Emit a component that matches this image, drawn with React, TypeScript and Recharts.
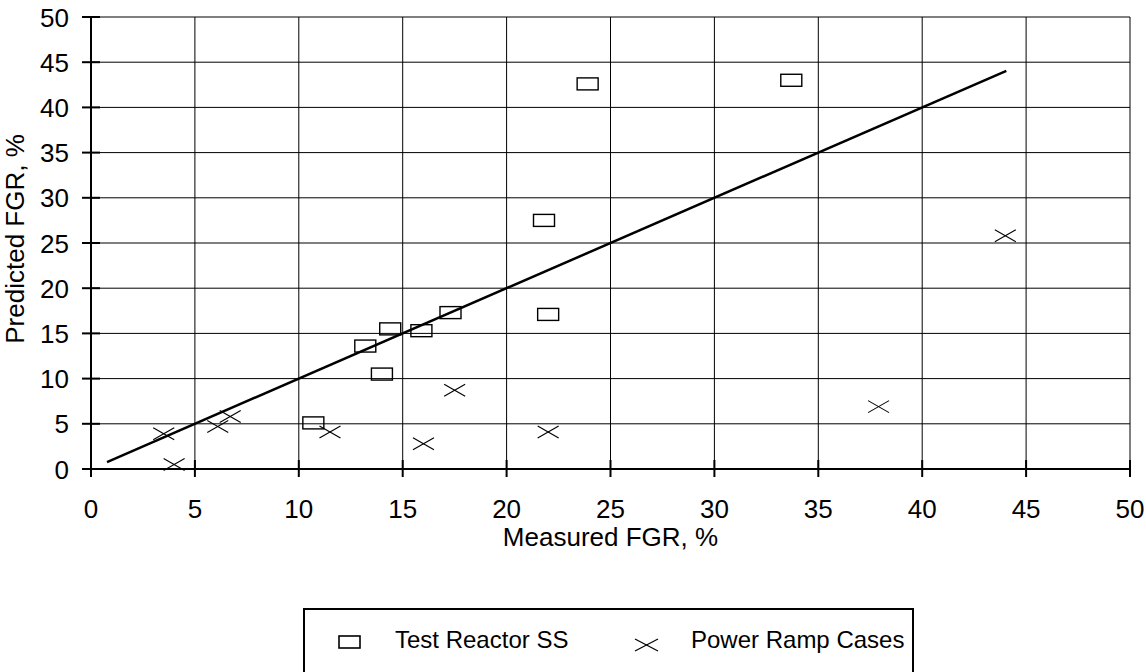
import {
  CartesianGrid,
  Legend,
  Scatter,
  ScatterChart,
  XAxis,
  YAxis,
} from 'recharts';

const FONT = '"Liberation Sans", Arial, sans-serif';

// Test Reactor SS (measured, predicted)
const reactorX = [10.7, 13.2, 14.4, 14.0, 15.9, 17.3, 22.0, 21.8, 23.9, 33.7];
const reactorY = [5.1, 13.6, 15.5, 10.5, 15.3, 17.3, 17.1, 27.5, 42.6, 43.0];

// Power Ramp Cases
const rampX = [3.5, 4.0, 6.1, 6.7, 11.5, 16.0, 17.5, 22.0, 37.9, 44.0];
const rampY = [3.9, 0.5, 4.7, 5.8, 4.1, 2.8, 8.7, 4.1, 6.9, 25.8];

// 1:1 line
const lineX = [0.77, 44.05];
const lineY = [0.77, 44.05];

const ticks = [0, 5, 10, 15, 20, 25, 30, 35, 40, 45, 50];

const reactor = reactorX.map((x, i) => ({ x, y: reactorY[i] }));
const ramp = rampX.map((x, i) => ({ x, y: rampY[i] }));
const fit = lineX.map((x, i) => ({ x, y: lineY[i] }));

const SquareMark = (p: any) => (
  <rect x={p.cx - 10.5} y={p.cy - 6} width={21} height={12} fill="none" stroke="#000" strokeWidth={1.4} />
);

const CrossMark = (p: any) => (
  <g stroke="#000" strokeWidth={1.1}>
    <line x1={p.cx - 10.5} y1={p.cy - 6} x2={p.cx + 10.5} y2={p.cy + 6} />
    <line x1={p.cx - 10.5} y1={p.cy + 6} x2={p.cx + 10.5} y2={p.cy - 6} />
  </g>
);

const NoMark = () => null;

const XTick = (p: any) => (
  <g>
    <line x1={p.x} x2={p.x} y1={p.y - 9} y2={p.y + 8} stroke="#000" strokeWidth={2} />
    <text x={p.x} y={p.y + 49} textAnchor="middle" fontSize={26} fontFamily={FONT} fill="#000">
      {p.payload.value}
    </text>
  </g>
);

const YTick = (p: any) => (
  <g>
    <line x1={p.x - 9} x2={p.x + 9} y1={p.y} y2={p.y} stroke="#000" strokeWidth={2} />
    <text x={p.x - 22} y={p.y + 9.5} textAnchor="end" fontSize={26} fontFamily={FONT} fill="#000">
      {p.payload.value}
    </text>
  </g>
);

const LegendBox = () => (
  <div
    style={{
      width: 611,
      height: 64,
      boxSizing: 'border-box',
      borderTop: '2px solid #000',
      borderLeft: '2px solid #000',
      borderRight: '2px solid #000',
      background: '#fff',
    }}
  >
    <svg width={607} height={62} style={{ display: 'block' }}>
      <rect x={34} y={26} width={21} height={12} fill="none" stroke="#000" strokeWidth={1.6} />
      <text x={90} y={38} fontSize={24} fontFamily={FONT} fill="#000">Test Reactor SS</text>
      <g stroke="#000" strokeWidth={1.2}>
        <line x1={330} y1={29} x2={353} y2={41} />
        <line x1={330} y1={41} x2={353} y2={29} />
      </g>
      <text x={386} y={38} fontSize={24} fontFamily={FONT} fill="#000">Power Ramp Cases</text>
    </svg>
  </div>
);

export default function App() {
  return (
    <div style={{ width: 1146, height: 672, overflow: 'hidden', background: '#fff' }}>
      <style>{'body{margin:0;background:#fff}'}</style>
      <ScatterChart width={1146} height={672} margin={{ top: 17, right: 16, left: 0, bottom: 143 }}>
        <CartesianGrid stroke="#000" strokeWidth={1} horizontalValues={ticks} verticalValues={ticks} />
        <XAxis
          type="number"
          dataKey="x"
          domain={[0, 50]}
          ticks={ticks}
          interval={0}
          height={60}
          tickSize={0}
          tickMargin={0}
          tick={XTick}
          axisLine={{ stroke: '#000', strokeWidth: 2 }}
          label={(props: any) => {
            const vb = props.viewBox;
            return (
              <text x={vb.x + vb.width / 2} y={vb.y + 77} textAnchor="middle" fontSize={26} fontFamily={FONT} fill="#000">
                Measured FGR, %
              </text>
            );
          }}
        />
        <YAxis
          type="number"
          dataKey="y"
          domain={[0, 50]}
          ticks={ticks}
          interval={0}
          width={91}
          tickSize={0}
          tickMargin={0}
          tick={YTick}
          axisLine={{ stroke: '#000', strokeWidth: 2 }}
          label={(props: any) => {
            const vb = props.viewBox;
            const cx = vb.x + 24;
            const cy = vb.y + vb.height / 2 - 4;
            return (
              <text x={cx} y={cy} transform={`rotate(-90 ${cx} ${cy})`} textAnchor="middle" fontSize={26} fontFamily={FONT} fill="#000">
                Predicted FGR, %
              </text>
            );
          }}
        />
        <Scatter
          name="fit"
          data={fit}
          line={{ stroke: '#000', strokeWidth: 2.5 }}
          shape={NoMark}
          legendType="none"
          isAnimationActive={false}
        />
        <Scatter name="Test Reactor SS" data={reactor} shape={SquareMark} isAnimationActive={false} />
        <Scatter name="Power Ramp Cases" data={ramp} shape={CrossMark} isAnimationActive={false} />
        <Legend
          layout="horizontal"
          verticalAlign="middle"
          align="center"
          content={LegendBox}
          wrapperStyle={{ left: 303, top: 608, width: 611, height: 64 }}
        />
      </ScatterChart>
    </div>
  );
}
